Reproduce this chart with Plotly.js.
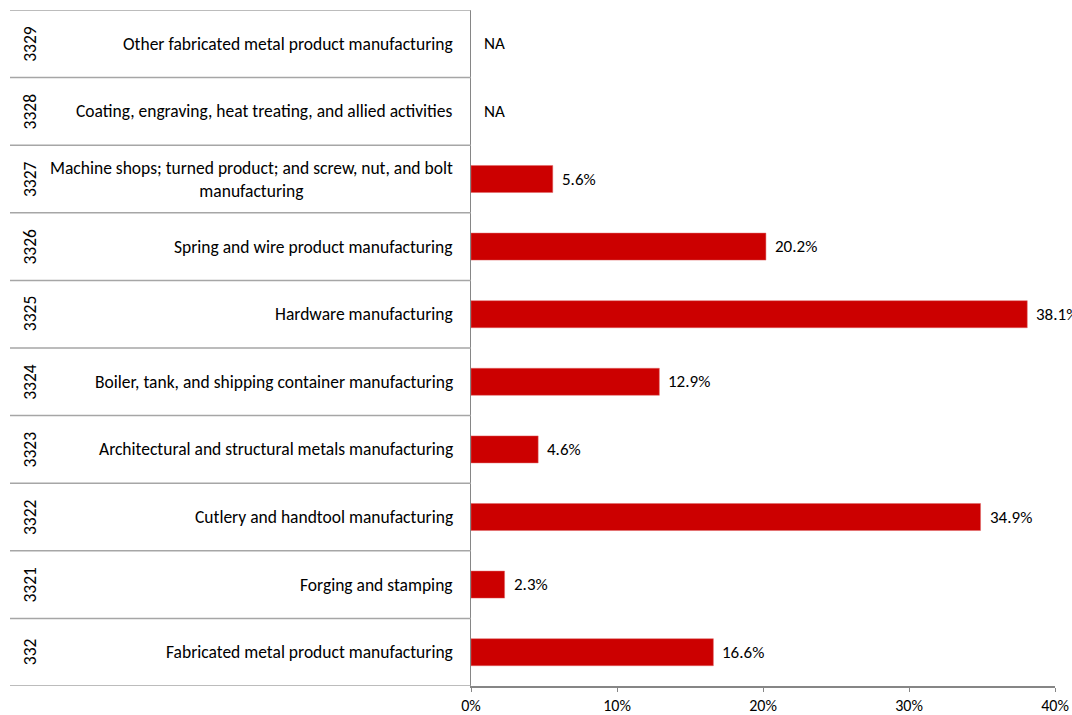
<!DOCTYPE html>
<html>
<head>
<meta charset="utf-8">
<script src="https://cdn.plot.ly/plotly-3.0.1.min.js"></script>
<style>html,body{margin:0;padding:0;background:#fff;}#chart{width:1072px;height:715px;}</style>
</head>
<body>
<div id="chart"></div>
<script>
// Data (bottom to top)
const codes = ["332","3321","3322","3323","3324","3325","3326","3327","3328","3329"];
const names = [
  "Fabricated metal product manufacturing",
  "Forging and stamping",
  "Cutlery and handtool manufacturing",
  "Architectural and structural metals manufacturing",
  "Boiler, tank, and shipping container manufacturing",
  "Hardware manufacturing",
  "Spring and wire product manufacturing",
  "Machine shops; turned product; and screw, nut, and bolt<br>manufacturing",
  "Coating, engraving, heat treating, and allied activities",
  "Other fabricated metal product manufacturing"
];
const values = [0.166, 0.023, 0.349, 0.046, 0.129, 0.381, 0.202, 0.056, null, null];
const tickVals = [0, 0.1, 0.2, 0.3, 0.4];

const FONT = "Carlito, Calibri, Lato, 'Open Sans', sans-serif";
const W = 1072, L = 471, R = 17;
const plotW = W - L - R;
const leftEdge = -(L - 10) / plotW;
const nameX = -16 / plotW;
const codeX = -(L - 30) / plotW;

const ids = codes.map((c, i) => i);

const trace = {
  type: "bar",
  orientation: "h",
  y: ids,
  x: values,
  marker: {color: "#cc0000", line: {color: "#e06666", width: 0.5}},
  hoverinfo: "skip",
  width: 0.4
};

const annotations = [];
const shapes = [];
codes.forEach((c, i) => {
  annotations.push({xref: "paper", yref: "y", x: codeX, y: i, text: c, textangle: -90,
    showarrow: false, xanchor: "center", yanchor: "middle",
    font: {family: FONT, size: 17.5, color: "#000"}});
  annotations.push({xref: "paper", yref: "y", x: nameX, y: i, text: names[i],
    showarrow: false, xanchor: "right", yanchor: "middle", align: "center",
    font: {family: FONT, size: 17.5, color: "#000"}});
  annotations.push({xref: "x", yref: "y", x: values[i] == null ? 0 : values[i], y: i,
    text: values[i] == null ? "NA" : (values[i] * 100).toFixed(1) + "%",
    showarrow: false, xanchor: "left", yanchor: "middle", xshift: values[i] == null ? 11 : 7,
    font: {family: FONT, size: 17, color: "#000"}});
});
for (let i = 0; i <= codes.length; i++) {
  shapes.push({type: "line", xref: "paper", yref: "y", x0: leftEdge, x1: 0, y0: i - 0.5, y1: i - 0.5,
    line: {color: "#a6a6a6", width: 1.5}});
}

const layout = {
  width: W, height: 715,
  margin: {l: L, r: R, t: 10, b: 29, pad: 0},
  paper_bgcolor: "#fff", plot_bgcolor: "#fff",
  showlegend: false,
  font: {family: FONT, size: 16, color: "#000"},
  xaxis: {
    range: [0, 0.4], tickvals: tickVals, tickformat: ".0%",
    showgrid: false, zeroline: false,
    showline: true, linecolor: "#868686", linewidth: 1.5,
    ticks: "outside", ticklen: 4, tickcolor: "#868686", tickwidth: 1,
    tickfont: {family: FONT, size: 16, color: "#000"}, fixedrange: true
  },
  yaxis: {
    range: [-0.5, codes.length - 0.5], tickvals: [], showticklabels: false,
    showgrid: false, zeroline: false,
    showline: true, linecolor: "#868686", linewidth: 1.5, fixedrange: true
  },
  annotations: annotations,
  shapes: shapes
};

Plotly.newPlot("chart", [trace], layout, {displayModeBar: false, staticPlot: true});
</script>
</body>
</html>
